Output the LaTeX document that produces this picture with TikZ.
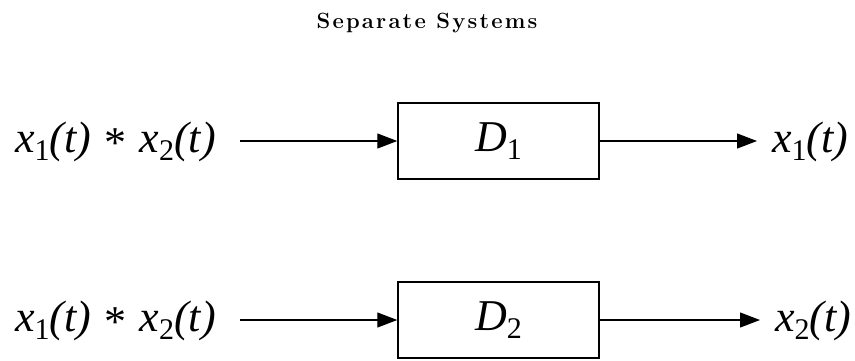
\documentclass[tikz,border=0pt]{standalone}
\usepackage{fontspec}
\usepackage{tikz}
\usetikzlibrary{arrows.meta}
\setmainfont{Liberation Serif}
\newfontfamily\titlefont[LetterSpace=10]{Latin Modern Roman}
\newcommand{\sigx}[1]{\textit{x}\raisebox{-0.2em}{\fontsize{30}{30}\selectfont #1}\textit{(t)}}
\newcommand{\convx}{\sigx{1}\hspace{0.3em}\raisebox{-0.12em}{*}\hspace{0.3em}\sigx{2}}
\newcommand{\blockD}[1]{\textit{D}\raisebox{-0.2em}{\fontsize{30}{30}\selectfont #1}}

\begin{document}
\begin{tikzpicture}[x=1pt,y=-1pt,>={Triangle[length=20pt,width=15pt]}]
  \tikzset{
    insig/.style={font=\fontsize{44}{44}\selectfont, inner xsep=24pt, inner ysep=0pt},
    outsig/.style={font=\fontsize{44}{44}\selectfont, inner xsep=15pt, inner ysep=0pt},
    dblock/.style={draw, line width=1.5pt, minimum width=201pt, minimum height=76pt,
      font=\fontsize{44}{44}\selectfont, inner sep=0pt},
    sigline/.style={->, line width=1.2pt}
  }
  \useasboundingbox (0,0) rectangle (855,360);

  % Titel
  \node[anchor=base, font=\titlefont\fontsize{22}{26}\selectfont\bfseries] (titel) at (427,28) {Separate Systems};

  % System D1
  \node[dblock] (d1) at (498.5,141) {\blockD{1}};
  \node[insig, anchor=base west] (in1) at (-9,152) {\convx};
  \node[outsig, anchor=base west] (out1) at (757,152) {\sigx{1}};
  \draw[sigline] (in1.east |- d1.west) -- (d1.west);
  \draw[sigline] (d1.east) -- (out1.west |- d1.east);

  % System D2
  \node[dblock] (d2) at (498.5,320) {\blockD{2}};
  \node[insig, anchor=base west] (in2) at (-9,331) {\convx};
  \node[outsig, anchor=base west] (out2) at (760,331) {\sigx{2}};
  \draw[sigline] (in2.east |- d2.west) -- (d2.west);
  \draw[sigline] (d2.east) -- (out2.west |- d2.east);
\end{tikzpicture}
\end{document}
